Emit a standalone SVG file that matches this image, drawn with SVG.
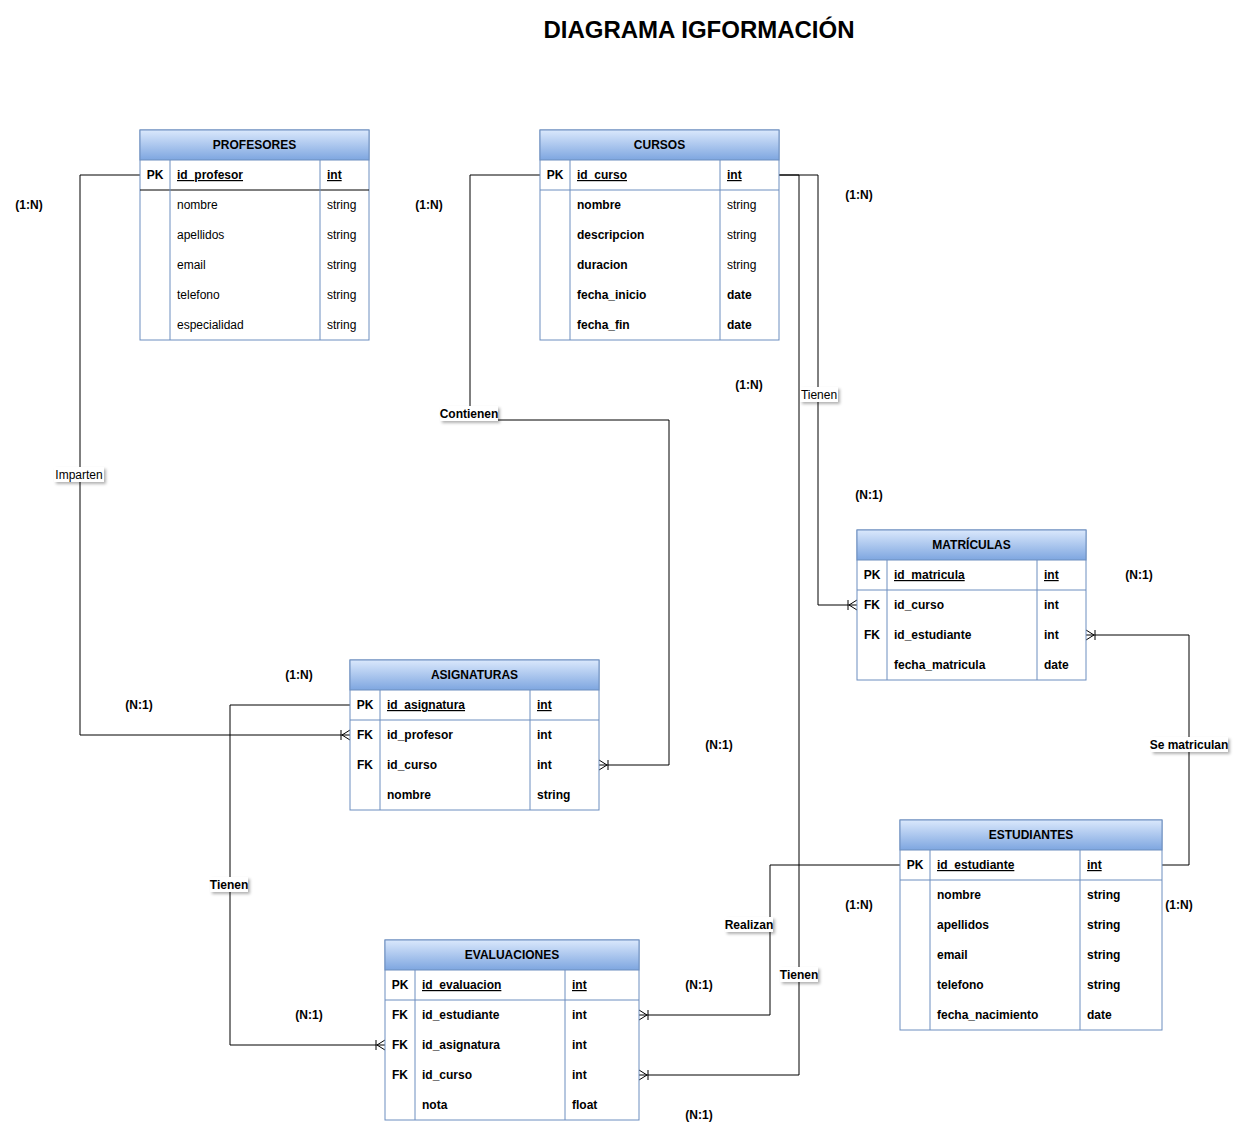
<svg xmlns="http://www.w3.org/2000/svg" width="1250" height="1131" viewBox="0 0 1250 1131">
<defs>
<linearGradient id="hdr" x1="0" y1="0" x2="0" y2="1">
<stop offset="0" stop-color="#dae8fc"/>
<stop offset="1" stop-color="#7ea6e0"/>
</linearGradient>
<filter id="sh" x="-20%" y="-30%" width="150%" height="180%">
<feDropShadow dx="2" dy="2" stdDeviation="1.5" flood-color="#000" flood-opacity="0.3"/>
</filter>
<marker id="many" markerUnits="userSpaceOnUse" markerWidth="14" markerHeight="14" refX="0" refY="0" orient="auto" overflow="visible">
<path d="M-8,0 L0,-5 M-8,0 L0,5 M-9,-5 L-9,5" fill="none" stroke="#000" stroke-width="1"/>
</marker>
</defs>
<style>
text{font-family:"Liberation Sans",Arial,sans-serif;font-size:12px;fill:#000}
.title{font-size:24px;font-weight:bold}
.h{font-weight:bold;text-anchor:middle}
.b{font-weight:bold}
.u{text-decoration:underline}
.pk{font-weight:bold;text-anchor:middle}
.box{fill:#fff;stroke:#6c8ebf;stroke-width:1}
.head{fill:url(#hdr);stroke:#6c8ebf;stroke-width:1}
.ln{stroke:#6c8ebf;stroke-width:1}
.conn path{fill:none;stroke:#000;stroke-width:1}
.lbl rect{fill:#fff;filter:url(#sh)}
.lbl text{text-anchor:middle}
.card{font-weight:bold;text-anchor:middle}
</style>
<rect width="1250" height="1131" fill="#fff"/>
<text class="title" x="699" y="38" text-anchor="middle">DIAGRAMA IGFORMACIÓN</text>

<g id="connectors" class="conn">
<path d="M140,175 H80 V735 H350" marker-end="url(#many)"/>
<path d="M540,175 H470 V420 H669 V765 H599" marker-end="url(#many)"/>
<path d="M779,175 H818 V605 H857" marker-end="url(#many)"/>
<path d="M779,175 H799 V1075 H639" marker-end="url(#many)"/>
<path d="M1162,865 H1189 V635 H1086" marker-end="url(#many)"/>
<path d="M900,865 H770 V1015 H639" marker-end="url(#many)"/>
<path d="M350,705 H230 V1045 H385" marker-end="url(#many)"/>
<g class="lbl">
<rect x="54" y="467" width="50" height="15"/><text x="79" y="479">Imparten</text>
<rect x="440" y="406" width="58" height="15"/><text x="469" y="418" class="b">Contienen</text>
<rect x="800" y="387" width="38" height="15"/><text x="819" y="399">Tienen</text>
<rect x="780" y="967" width="38" height="15"/><text x="799" y="979" class="b">Tienen</text>
<rect x="1151" y="737" width="77" height="15"/><text x="1189" y="749" class="b">Se matriculan</text>
<rect x="725" y="917" width="48" height="15"/><text x="749" y="929" class="b">Realizan</text>
<rect x="210" y="877" width="38" height="15"/><text x="229" y="889" class="b">Tienen</text>
</g>
</g>

<g id="cardinalities">
<text class="card" x="29" y="209">(1:N)</text>
<text class="card" x="429" y="209">(1:N)</text>
<text class="card" x="859" y="199">(1:N)</text>
<text class="card" x="749" y="389">(1:N)</text>
<text class="card" x="869" y="499">(N:1)</text>
<text class="card" x="1139" y="579">(N:1)</text>
<text class="card" x="299" y="679">(1:N)</text>
<text class="card" x="139" y="709">(N:1)</text>
<text class="card" x="719" y="749">(N:1)</text>
<text class="card" x="859" y="909">(1:N)</text>
<text class="card" x="1179" y="909">(1:N)</text>
<text class="card" x="699" y="989">(N:1)</text>
<text class="card" x="309" y="1019">(N:1)</text>
<text class="card" x="699" y="1119">(N:1)</text>
</g>

<g id="profesores">
<rect class="box" x="140" y="130" width="229" height="210"/>
<rect class="head" x="140" y="130" width="229" height="30"/>
<text class="h" x="254.5" y="149">PROFESORES</text>
<line x1="140" y1="190" x2="369" y2="190" stroke="#000"/>
<line class="ln" x1="170" y1="160" x2="170" y2="340"/>
<line class="ln" x1="320" y1="160" x2="320" y2="340"/>
<text class="pk" x="155" y="179">PK</text>
<text class="b u" x="177" y="179">id_profesor</text>
<text class="b u" x="327" y="179">int</text>
<text x="177" y="209">nombre</text><text x="327" y="209">string</text>
<text x="177" y="239">apellidos</text><text x="327" y="239">string</text>
<text x="177" y="269">email</text><text x="327" y="269">string</text>
<text x="177" y="299">telefono</text><text x="327" y="299">string</text>
<text x="177" y="329">especialidad</text><text x="327" y="329">string</text>
</g>

<g id="cursos">
<rect class="box" x="540" y="130" width="239" height="210"/>
<rect class="head" x="540" y="130" width="239" height="30"/>
<text class="h" x="659.5" y="149">CURSOS</text>
<line class="ln" x1="540" y1="190" x2="779" y2="190"/>
<line class="ln" x1="570" y1="160" x2="570" y2="340"/>
<line class="ln" x1="720" y1="160" x2="720" y2="340"/>
<text class="pk" x="555" y="179">PK</text>
<text class="b u" x="577" y="179">id_curso</text>
<text class="b u" x="727" y="179">int</text>
<text class="b" x="577" y="209">nombre</text><text x="727" y="209">string</text>
<text class="b" x="577" y="239">descripcion</text><text x="727" y="239">string</text>
<text class="b" x="577" y="269">duracion</text><text x="727" y="269">string</text>
<text class="b" x="577" y="299">fecha_inicio</text><text class="b" x="727" y="299">date</text>
<text class="b" x="577" y="329">fecha_fin</text><text class="b" x="727" y="329">date</text>
</g>

<g id="matriculas">
<rect class="box" x="857" y="530" width="229" height="150"/>
<rect class="head" x="857" y="530" width="229" height="30"/>
<text class="h" x="971.5" y="549">MATRÍCULAS</text>
<line class="ln" x1="857" y1="590" x2="1086" y2="590"/>
<line class="ln" x1="887" y1="560" x2="887" y2="680"/>
<line class="ln" x1="1037" y1="560" x2="1037" y2="680"/>
<text class="pk" x="872" y="579">PK</text>
<text class="b u" x="894" y="579">id_matricula</text>
<text class="b u" x="1044" y="579">int</text>
<text class="pk" x="872" y="609">FK</text><text class="b" x="894" y="609">id_curso</text><text class="b" x="1044" y="609">int</text>
<text class="pk" x="872" y="639">FK</text><text class="b" x="894" y="639">id_estudiante</text><text class="b" x="1044" y="639">int</text>
<text class="b" x="894" y="669">fecha_matricula</text><text class="b" x="1044" y="669">date</text>
</g>

<g id="asignaturas">
<rect class="box" x="350" y="660" width="249" height="150"/>
<rect class="head" x="350" y="660" width="249" height="30"/>
<text class="h" x="474.5" y="679">ASIGNATURAS</text>
<line class="ln" x1="350" y1="720" x2="599" y2="720"/>
<line class="ln" x1="380" y1="690" x2="380" y2="810"/>
<line class="ln" x1="530" y1="690" x2="530" y2="810"/>
<text class="pk" x="365" y="709">PK</text>
<text class="b u" x="387" y="709">id_asignatura</text>
<text class="b u" x="537" y="709">int</text>
<text class="pk" x="365" y="739">FK</text><text class="b" x="387" y="739">id_profesor</text><text class="b" x="537" y="739">int</text>
<text class="pk" x="365" y="769">FK</text><text class="b" x="387" y="769">id_curso</text><text class="b" x="537" y="769">int</text>
<text class="b" x="387" y="799">nombre</text><text class="b" x="537" y="799">string</text>
</g>

<g id="estudiantes">
<rect class="box" x="900" y="820" width="262" height="210"/>
<rect class="head" x="900" y="820" width="262" height="30"/>
<text class="h" x="1031" y="839">ESTUDIANTES</text>
<line class="ln" x1="900" y1="880" x2="1162" y2="880"/>
<line class="ln" x1="930" y1="850" x2="930" y2="1030"/>
<line class="ln" x1="1080" y1="850" x2="1080" y2="1030"/>
<text class="pk" x="915" y="869">PK</text>
<text class="b u" x="937" y="869">id_estudiante</text>
<text class="b u" x="1087" y="869">int</text>
<text class="b" x="937" y="899">nombre</text><text class="b" x="1087" y="899">string</text>
<text class="b" x="937" y="929">apellidos</text><text class="b" x="1087" y="929">string</text>
<text class="b" x="937" y="959">email</text><text class="b" x="1087" y="959">string</text>
<text class="b" x="937" y="989">telefono</text><text class="b" x="1087" y="989">string</text>
<text class="b" x="937" y="1019">fecha_nacimiento</text><text class="b" x="1087" y="1019">date</text>
</g>

<g id="evaluaciones">
<rect class="box" x="385" y="940" width="254" height="180"/>
<rect class="head" x="385" y="940" width="254" height="30"/>
<text class="h" x="512" y="959">EVALUACIONES</text>
<line class="ln" x1="385" y1="1000" x2="639" y2="1000"/>
<line class="ln" x1="415" y1="970" x2="415" y2="1120"/>
<line class="ln" x1="565" y1="970" x2="565" y2="1120"/>
<text class="pk" x="400" y="989">PK</text>
<text class="b u" x="422" y="989">id_evaluacion</text>
<text class="b u" x="572" y="989">int</text>
<text class="pk" x="400" y="1019">FK</text><text class="b" x="422" y="1019">id_estudiante</text><text class="b" x="572" y="1019">int</text>
<text class="pk" x="400" y="1049">FK</text><text class="b" x="422" y="1049">id_asignatura</text><text class="b" x="572" y="1049">int</text>
<text class="pk" x="400" y="1079">FK</text><text class="b" x="422" y="1079">id_curso</text><text class="b" x="572" y="1079">int</text>
<text class="b" x="422" y="1109">nota</text><text class="b" x="572" y="1109">float</text>
</g>
</svg>
